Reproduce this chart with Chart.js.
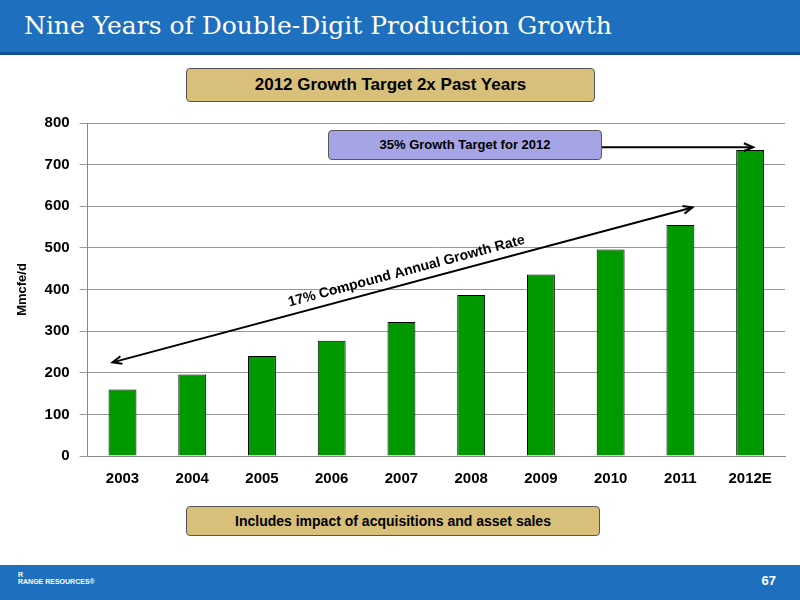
<!DOCTYPE html>
<html>
<head>
<meta charset="utf-8">
<script src="https://cdn.jsdelivr.net/npm/chart.js@4"></script>
<style>
  body { margin: 0; width: 800px; height: 600px; background: #fff; position: relative; overflow: hidden; font-family: "Liberation Sans", Arial, sans-serif; }
  .header { position: absolute; left: 0; top: 0; width: 800px; height: 52px; background: #1f6fbf; border-bottom: 3px solid #0d4f99; }
  .header h1 { margin: 0; position: absolute; left: 24px; top: 11px; color: #fff; font: 400 25px "DejaVu Serif", Georgia, serif; }
  .footer { position: absolute; left: 0; top: 565px; width: 800px; height: 35px; background: #1f6fbf; }
  .footer .num { position: absolute; right: 24px; top: 8px; color: #fff; font-weight: bold; font-size: 13px; }
  .footer .logo { position: absolute; left: 18px; top: 6px; color: #fff; font-size: 7px; font-weight: bold; }
  .box { position: absolute; text-align: center; font-weight: bold; border: 1px solid #555; border-radius: 4px; }
  .gold { background: #d8c07a; }
  #wrap { position: absolute; left: 0; top: 104px; width: 800px; height: 390px; }
</style>
</head>
<body>
<div class="header"><h1>Nine Years of Double-Digit Production Growth</h1></div>
<div class="box gold" style="left:186px;top:68px;width:407px;height:32px;line-height:32px;font-size:17px;">2012 Growth Target 2x Past Years</div>
<div class="box gold" style="left:186px;top:506px;width:412px;height:28px;line-height:28px;font-size:14px;">Includes impact of acquisitions and asset sales</div>
<div class="box" style="left:328px;top:130px;width:272px;height:28px;line-height:28px;font-size:13px;background:#a5a5e6;z-index:2;">35% Growth Target for 2012</div>
<div id="wrap"><canvas id="c"></canvas></div>
<div class="footer"><div class="logo">R<br>RANGE RESOURCES®</div><div class="num">67</div></div>
<script>
const years = ["2003", "2004", "2005", "2006", "2007", "2008", "2009", "2010", "2011", "2012E"];
const production = [160, 196, 240, 277, 322, 387, 436, 496, 555, 735];
const yTicks = [0, 100, 200, 300, 400, 500, 600, 700, 800];

function arrow(ctx, x1, y1, x2, y2, both) {
  ctx.beginPath(); ctx.moveTo(x1, y1); ctx.lineTo(x2, y2); ctx.stroke();
  const heads = [[x2, y2, Math.atan2(y2 - y1, x2 - x1)]];
  if (both) heads.push([x1, y1, Math.atan2(y1 - y2, x1 - x2)]);
  heads.forEach(([x, y, t]) => {
    ctx.beginPath();
    ctx.moveTo(x - 10 * Math.cos(t - 0.4), y - 10 * Math.sin(t - 0.4));
    ctx.lineTo(x, y);
    ctx.lineTo(x - 10 * Math.cos(t + 0.4), y - 10 * Math.sin(t + 0.4));
    ctx.stroke();
  });
}

const notes = {
  id: "notes",
  afterDraw(chart) {
    const ctx = chart.ctx, xs = chart.scales.x, ys = chart.scales.y;
    ctx.save();
    ctx.strokeStyle = "#000"; ctx.lineWidth = 2;
    const x1 = xs.getPixelForValue(0) - 10, y1 = ys.getPixelForValue(225);
    const x2 = xs.getPixelForValue(8) + 12, y2 = ys.getPixelForValue(597);
    arrow(ctx, x1, y1, x2, y2, true);
    arrow(ctx, 600, ys.getPixelForValue(742), xs.getPixelForValue(9) + 3, ys.getPixelForValue(742), false);
    const ang = Math.atan2(y2 - y1, x2 - x1);
    ctx.translate((x1 + x2) / 2 + 5, (y1 + y2) / 2 - 10);
    ctx.rotate(ang);
    ctx.font = "bold 14px 'Liberation Sans', Arial, sans-serif";
    ctx.fillStyle = "#000"; ctx.textAlign = "center";
    ctx.fillText("17% Compound Annual Growth Rate", 0, 0);
    ctx.restore();
  }
};

new Chart(document.getElementById("c"), {
  type: "bar",
  data: {
    labels: years,
    datasets: [{ data: production, backgroundColor: "#009900", borderColor: "#000", borderWidth: 1, categoryPercentage: 0.8, barPercentage: 0.5 }]
  },
  options: {
    responsive: true, maintainAspectRatio: false, animation: false,
    layout: { padding: { left: 11, right: 15, top: 4 } },
    plugins: { legend: { display: false }, tooltip: { enabled: false } },
    scales: {
      x: {
        grid: { display: false },
        border: { color: "#888" },
        ticks: { color: "#000", padding: 6, font: { size: 15, weight: "bold", family: "Liberation Sans" } }
      },
      y: {
        min: 0, max: 800,
        afterBuildTicks: (s) => { s.ticks = yTicks.map(v => ({ value: v })); },
        grid: { color: "#999" },
        border: { color: "#888" },
        title: { display: true, text: "Mmcfe/d", color: "#000", font: { size: 13, weight: "bold", family: "Liberation Sans" }, padding: 4 },
        ticks: { color: "#000", padding: 10, font: { size: 15, weight: "bold", family: "Liberation Sans" } }
      }
    }
  },
  plugins: [notes]
});
</script>
</body>
</html>
